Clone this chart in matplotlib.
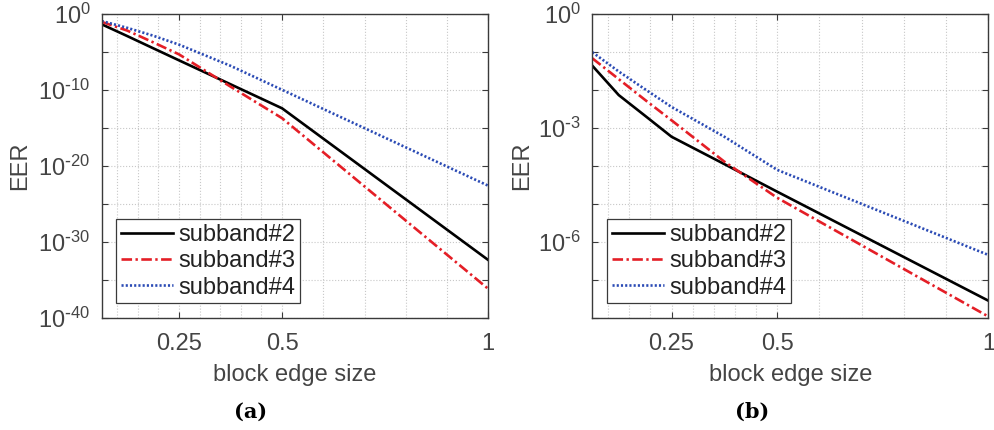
import numpy as np
import matplotlib
matplotlib.use("Agg")
import matplotlib.pyplot as plt
from matplotlib.ticker import FixedLocator, NullLocator, FixedFormatter

plt.rc("font", family="Liberation Sans", size=17)
plt.rc("mathtext", default="regular")

TXT = "#444444"
AX = "#3a3a3a"

# block edge size
x_a = [1 / 16, 1 / 8, 3 / 16, 1 / 4, 3 / 8, 1 / 2, 1]
x_b = [1 / 16, 1 / 8, 3 / 16, 1 / 4, 3 / 8, 1 / 2, 1]

# (a) EER
sub2_a = [4.8e-2, 1.3e-3, 3.3e-5, 8.5e-7, 5.9e-10, 4.0e-13, 4.0e-33]
sub3_a = [1.0e-1, 6.9e-3, 2.0e-4, 5.2e-6, 2.9e-10, 2.0e-14, 6.3e-37]
sub4_a = [1.3e-1, 1.6e-2, 1.5e-3, 1.0e-4, 1.6e-7, 1.1e-10, 2.5e-23]

# (b) EER
sub2_b = [4.4e-2, 7.4e-3, 2.1e-3, 5.9e-4, 1.12e-4, 2.1e-5, 2.8e-8]
sub3_b = [6.9e-2, 1.95e-2, 5.5e-3, 1.6e-3, 1.3e-4, 1.45e-5, 1.07e-8]
sub4_b = [1.0e-1, 3.1e-2, 1.05e-2, 3.6e-3, 5.9e-4, 7.9e-5, 4.5e-7]

labels = ["subband#2", "subband#3", "subband#4"]

x_ticks = [0.25, 0.5, 1]
x_ticklabels = ["0.25", "0.5", "1"]
x_minor = [0.1, 0.15, 0.2, 0.3, 0.35, 0.4, 0.45, 0.6, 0.7, 0.8, 0.9]

ya_exp = [0, -5, -10, -15, -20, -25, -30, -35, -40]
ya_lab = [0, -10, -20, -30, -40]
yb_exp = [0, -1, -2, -3, -4, -5, -6, -7, -8]
yb_lab = [0, -3, -6]

fig = plt.figure(figsize=(9.94, 4.30), dpi=100)
ax_a = fig.add_axes([0.1023, 0.2612, 0.3889, 0.7056])
ax_b = fig.add_axes([0.5959, 0.2612, 0.3985, 0.7056])


def exp_label(e):
    if e == 0:
        return r"$10^{0}$"
    return r"$10^{\text{-}%d}$" % abs(e)


def draw(ax, x, s2, s3, s4, y_exp, y_lab, ylab_x):
    ax.plot(x, s2, "-", color="k", lw=1.9, label=labels[0])
    ax.plot(x, s3, "-.", color="#e41e26", lw=1.9, dashes=[4.0, 1.3, 0.9, 1.3],
            label=labels[1])
    ax.plot(x, s4, ":", color="#2b4bb5", lw=1.9, dashes=[0.8, 0.8],
            label=labels[2])
    ax.set_yscale("log")
    ax.set_xlim(1 / 16, 1)
    ax.set_ylim(10.0 ** y_exp[-1], 10.0 ** y_exp[0])

    ax.xaxis.set_major_locator(FixedLocator(x_ticks))
    ax.xaxis.set_major_formatter(FixedFormatter(x_ticklabels))
    ax.xaxis.set_minor_locator(FixedLocator(x_minor))
    ax.yaxis.set_major_locator(FixedLocator([10.0 ** e for e in y_exp]))
    ax.yaxis.set_major_formatter(FixedFormatter(
        [exp_label(e) if e in y_lab else "" for e in y_exp]))
    ax.yaxis.set_minor_locator(NullLocator())

    ax.tick_params(which="major", direction="in", length=4, width=0.8,
                   top=True, right=True, colors=AX, labelcolor=TXT,
                   labelsize=17)
    ax.tick_params(axis="x", which="major", pad=11)
    ax.tick_params(axis="y", which="major", pad=8)
    ax.tick_params(which="minor", length=0, top=True, right=True)
    ax.grid(True, which="both", ls=":", color="#c8c8c8", lw=0.8)
    ax.set_axisbelow(True)
    for sp in ax.spines.values():
        sp.set_color(AX)
        sp.set_linewidth(1.0)

    ax.set_xlabel("block edge size", color=TXT, fontsize=17)
    ax.xaxis.set_label_coords(0.5, -0.19)
    ax.xaxis.label.set_va("center")
    ax.set_ylabel("EER", color=TXT, fontsize=17)
    ax.yaxis.set_label_coords(ylab_x, 0.5)
    ax.yaxis.label.set_va("center")

    leg = ax.legend(loc="lower left", bbox_to_anchor=(0.037, 0.047),
                    borderaxespad=0, fontsize=17, handlelength=2.2,
                    handletextpad=0.25, labelspacing=0.18, borderpad=0.2,
                    fancybox=False, framealpha=1)
    leg.get_frame().set_edgecolor(AX)
    leg.get_frame().set_linewidth(0.9)
    for t in leg.get_texts():
        t.set_color("#222222")


draw(ax_a, x_a, sub2_a, sub3_a, sub4_a, ya_exp, ya_lab, -0.211)
draw(ax_b, x_b, sub2_b, sub3_b, sub4_b, yb_exp, yb_lab, -0.1775)

fig.text(251 / 994, 1 - 412 / 430, "(a)", ha="center", va="center",
         family="DejaVu Serif", fontweight="bold", fontsize=15)
fig.text(752 / 994, 1 - 412 / 430, "(b)", ha="center", va="center",
         family="DejaVu Serif", fontweight="bold", fontsize=15)

fig.savefig("out.png", dpi=100)
